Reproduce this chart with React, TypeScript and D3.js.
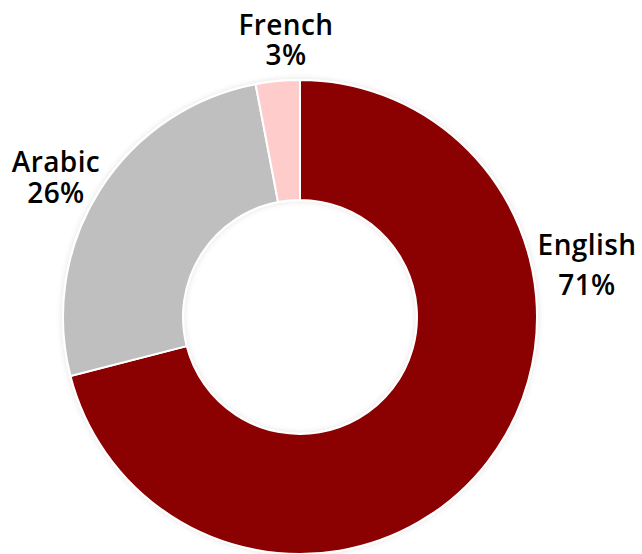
import React, { useEffect, useRef } from 'react';
import * as d3 from 'd3';

const languages = ['English', 'Arabic', 'French'];
const shares = [71, 26, 3];
const colors = ['#8B0000', '#BFBFBF', '#FFCCCC'];

// label anchors (centre x, first baseline y, gap to second baseline) in px
const labelLayout = [
  { x: 587, y: 255, gap: 40 },
  { x: 56, y: 172, gap: 31 },
  { x: 286, y: 35, gap: 30 },
];

const App = () => {
  const svgRef = useRef<SVGSVGElement>(null);
  const width = 642;
  const height = 554;
  const cx = 300;
  const cy = 317;
  const outer = 237;
  const inner = 117;

  useEffect(() => {
    const svg = d3.select(svgRef.current);
    svg.selectAll('*').remove();

    const data = languages.map((name, i) => ({ name, value: shares[i], color: colors[i] }));
    const pie = d3.pie<any>().value(d => d.value).sort(null);
    const arc = d3.arc<any>().innerRadius(inner).outerRadius(outer);

    const defs = svg.append('defs');
    const f = defs.append('filter').attr('id', 'glow').attr('x', '-10%').attr('y', '-10%').attr('width', '120%').attr('height', '120%');
    f.append('feGaussianBlur').attr('in', 'SourceAlpha').attr('stdDeviation', 3).attr('result', 'b');
    f.append('feComponentTransfer').attr('in', 'b').attr('result', 'c')
      .append('feFuncA').attr('type', 'linear').attr('slope', 0.12);
    const m = f.append('feMerge');
    m.append('feMergeNode').attr('in', 'c');
    m.append('feMergeNode').attr('in', 'SourceGraphic');

    svg.append('g')
      .attr('transform', `translate(${cx}, ${cy})`)
      .attr('filter', 'url(#glow)')
      .selectAll('path')
      .data(pie(data))
      .join('path')
      .attr('d', arc)
      .attr('fill', d => d.data.color)
      .attr('stroke', '#ffffff')
      .attr('stroke-width', 2);

    const labels = svg.append('g')
      .attr('font-family', '"Open Sans", sans-serif')
      .attr('font-size', 28)
      .attr('font-weight', 600)
      .attr('letter-spacing', 0.4)
      .attr('fill', '#000')
      .attr('text-anchor', 'middle');

    data.forEach((d, i) => {
      const l = labelLayout[i];
      const t = labels.append('text').attr('x', l.x).attr('y', l.y);
      t.append('tspan').attr('x', l.x).text(d.name);
      t.append('tspan').attr('x', l.x).attr('dy', l.gap).text(`${d.value}%`);
    });
  }, []);

  return (
    <svg ref={svgRef} width={width} height={height}
      style={{ position: 'absolute', left: 0, top: 0, background: '#fff' }} />
  );
};

export default App;
